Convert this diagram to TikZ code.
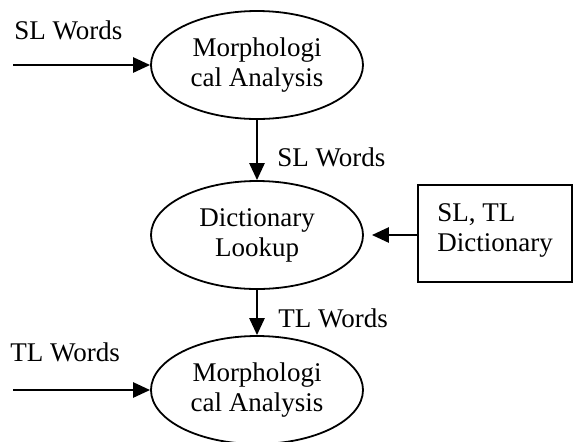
\documentclass[tikz,border=0pt]{standalone}
\usepackage{fontspec}
\setmainfont{Liberation Serif}
\usetikzlibrary{positioning,arrows.meta,shapes.geometric}
\tikzset{
  proc/.style={draw,ellipse,line width=0.9pt,minimum width=106pt,minimum height=54pt,inner sep=0pt,align=center,font=\fontsize{13.5}{15}\selectfont},
  store/.style={draw,line width=0.9pt,minimum width=77pt,minimum height=48.5pt,inner sep=0pt},
  arr/.style={-{Triangle[length=8.5pt,width=7.5pt]},line width=1.3pt},
  lab/.style={font=\fontsize{13.5}{15}\selectfont,inner sep=0pt,anchor=west},
}
\begin{document}
\begin{tikzpicture}[x=0.5pt,y=-0.5pt]
\useasboundingbox (0,0) rectangle (573,441);
% processes
\node[proc] (ma1) at (257,65) {Morphologi\\cal Analysis};
\node[proc] (dl) at (257,235) {Dictionary\\Lookup};
\node[proc] (ma2) at (257,390) {Morphologi\\cal Analysis};
% dictionary store
\node[store] (dict) at (495,233.5) {};
\node[lab,align=left] (dtxt) at (437,230) {SL, TL\\Dictionary};
% inputs
\coordinate (in1) at (13,65);
\coordinate (in2) at (13,390);
\node[lab] (sl1) at (14,30) {SL Words};
\node[lab] (tl1) at (10,352) {TL Words};
\draw[arr] (in1) -- (ma1.west);
\draw[arr] (in2) -- (ma2.west);
% flows
\draw[arr] (ma1.south) -- (dl.north);
\node[lab] (sl2) at (277,157) {SL Words};
\draw[arr] (dl.south) -- (ma2.north);
\node[lab] (tl2) at (278,318) {TL Words};
\draw[arr,shorten >=4pt] (dict.west |- dl.east) -- (dl.east);
\end{tikzpicture}
\end{document}
